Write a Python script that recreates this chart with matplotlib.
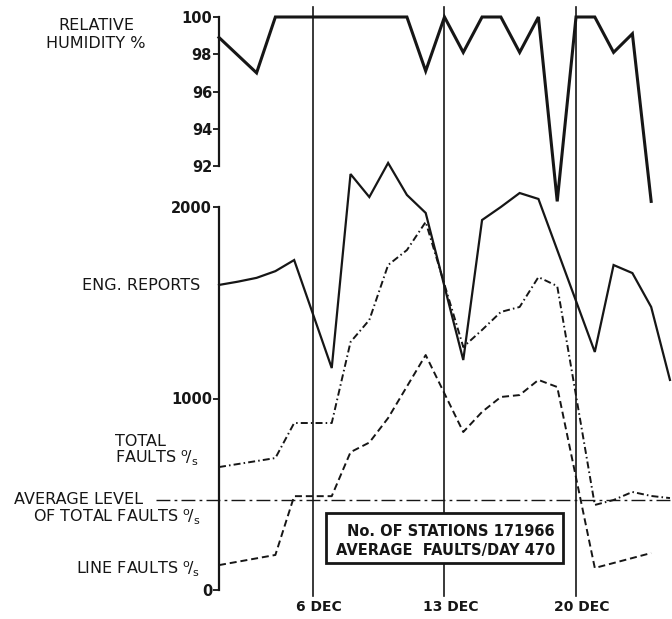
import matplotlib
matplotlib.use("Agg")
import matplotlib.pyplot as plt
from matplotlib.patches import Rectangle
from matplotlib.transforms import ScaledTranslation

plt.rcParams['font.family'] = ['DejaVu Sans']
plt.rcParams['mathtext.fontset'] = 'dejavusans'

# ---------------- data (day of December) ----------------
hum_days = [1, 3, 4, 11, 12, 13, 14, 15, 16, 17, 18, 19, 20, 21, 22, 23, 24]
humidity = [98.9, 97.0, 100, 100, 97.1, 100, 98.1, 100, 100, 98.1, 100, 90.1, 100, 100, 98.1, 99.1, 90.1]

eng_days = [1, 2, 3, 4, 5, 7, 8, 9, 10, 11, 12, 14, 15, 16, 17, 18, 21, 22, 23, 24, 25]
eng_reports = [1593, 1610, 1630, 1665, 1723, 1159, 2172, 2052, 2230, 2063, 1969,
               1201, 1932, 2000, 2073, 2042, 1243, 1697, 1655, 1478, 1097]

tot_days = [1, 4, 5, 7, 8, 9, 10, 11, 12, 14, 15, 16, 17, 18, 19, 21, 22, 23, 24, 25]
total_faults = [642, 689, 872, 872, 1295, 1410, 1697, 1775, 1922, 1269, 1358, 1452,
                1478, 1634, 1587, 444, 470, 512, 491, 480]

line_days = [1, 4, 5, 7, 8, 9, 10, 12, 14, 15, 16, 17, 18, 19, 21, 24]
line_faults = [130, 183, 490, 490, 720, 770, 898, 1227, 825, 930, 1008, 1018, 1097, 1060, 115, 193]

average_level = 470
n_stations = 171966

week_days = [6, 13, 20]
week_labels = ["6 DEC", "13 DEC", "20 DEC"]
hum_ticks = [92, 94, 96, 98, 100]
count_ticks = [0, 1000, 2000]

# ---------------- layout ----------------
W, H = 672, 619
fig = plt.figure(figsize=(W / 100, H / 100), dpi=100)
fig.patch.set_facecolor('white')
ink = '#161616'

def fx(px):
    return px / W

def fy(py):
    return 1 - py / H

left_px, right_px = 219, 672
px_per_day = 18.79
xmin = 1.0
xmax = xmin + (right_px - left_px) / px_per_day

ax_bot = fig.add_axes([fx(left_px), fy(590), (right_px - left_px) / W, 383 / H])
ax_top = fig.add_axes([fx(left_px), fy(166), (right_px - left_px) / W, 149 / H])

for ax in (ax_bot, ax_top):
    ax.set_facecolor('none')
    for s in ('top', 'right', 'bottom'):
        ax.spines[s].set_visible(False)
    ax.spines['left'].set_linewidth(1.6)
    ax.spines['left'].set_color(ink)
    ax.set_xlim(xmin, xmax)
    ax.tick_params(axis='y', direction='out', length=4, width=1.3, colors=ink,
                   labelsize=10.5, pad=1)

ax_top.set_ylim(92, 100)
ax_top.set_yticks(hum_ticks)
ax_top.set_yticklabels([str(t) for t in hum_ticks], fontweight='bold', fontsize=10.5)
ax_top.set_xticks([])

ax_bot.set_ylim(0, 2000)
ax_bot.set_yticks(count_ticks)
ax_bot.set_yticklabels([str(t) for t in count_ticks], fontweight='bold', fontsize=10.5)
ax_bot.set_xticks(week_days)
ax_bot.set_xticklabels(week_labels, fontweight='bold', fontsize=10)
ax_bot.tick_params(axis='x', length=0, pad=7, colors=ink)
for lab in ax_bot.get_xticklabels():
    lab.set_transform(lab.get_transform() + ScaledTranslation(0.06, 0, fig.dpi_scale_trans))

# week lines
for d in week_days:
    ax_bot.axvline(d, ymin=(590 - 596) / 383, ymax=(590 - 7) / 383, color=ink,
                   lw=1.2, clip_on=False, zorder=1)

# humidity
ax_top.plot(hum_days, humidity, color=ink, lw=2.2, clip_on=False,
            solid_joinstyle='miter', zorder=3)

# engineering reports
ax_bot.plot(eng_days, eng_reports, color=ink, lw=1.6, clip_on=False,
            solid_joinstyle='miter', zorder=3)

# total faults (dash-dot)
ax_bot.plot(tot_days, total_faults, color=ink, lw=1.4, clip_on=False,
            dashes=(3.6, 1.6, 0.8, 1.6), zorder=3)

# line faults (dashed)
ax_bot.plot(line_days, line_faults, color=ink, lw=1.4, clip_on=False,
            dashes=(3.6, 2.0), zorder=3)

# average level
ax_bot.axhline(average_level, xmin=(156 - left_px) / (right_px - left_px), xmax=1,
               color=ink, lw=1.0, dashes=(10, 3, 2, 3), clip_on=False, zorder=2)

# info box
fig.add_artist(Rectangle((fx(326), fy(563)), (563 - 326) / W, (563 - 513) / H,
                         transform=fig.transFigure, facecolor='white',
                         edgecolor=ink, lw=2.0, zorder=5))
fig.text(fx(555), fy(531), "No. OF STATIONS %d" % n_stations, ha='right', va='center',
         fontsize=10.5, fontweight='bold', color=ink, zorder=6)
fig.text(fx(555), fy(550), "AVERAGE  FAULTS/DAY %d" % average_level, ha='right',
         va='center', fontsize=10.5, fontweight='bold', color=ink, zorder=6)

# side labels
os_ = r"$^{\mathrm{o}}\!/_{\mathrm{s}}$"
lab_kw = dict(fontsize=11.5, color=ink)
fig.text(fx(96), fy(25), "RELATIVE", ha='center', va='center', **lab_kw)
fig.text(fx(96), fy(44), "HUMIDITY %", ha='center', va='center', **lab_kw)
fig.text(fx(200), fy(285), "ENG. REPORTS", ha='right', va='center', **lab_kw)
fig.text(fx(140), fy(442), "TOTAL", ha='center', va='center', **lab_kw)
fig.text(fx(198), fy(458), "FAULTS " + os_, ha='right', va='center', **lab_kw)
fig.text(fx(14), fy(499), "AVERAGE LEVEL", ha='left', va='center', **lab_kw)
fig.text(fx(200), fy(517), "OF TOTAL FAULTS " + os_, ha='right', va='center', **lab_kw)
fig.text(fx(200), fy(569), "LINE FAULTS " + os_, ha='right', va='center', **lab_kw)

fig.savefig("out.png", dpi=100, facecolor='white')
